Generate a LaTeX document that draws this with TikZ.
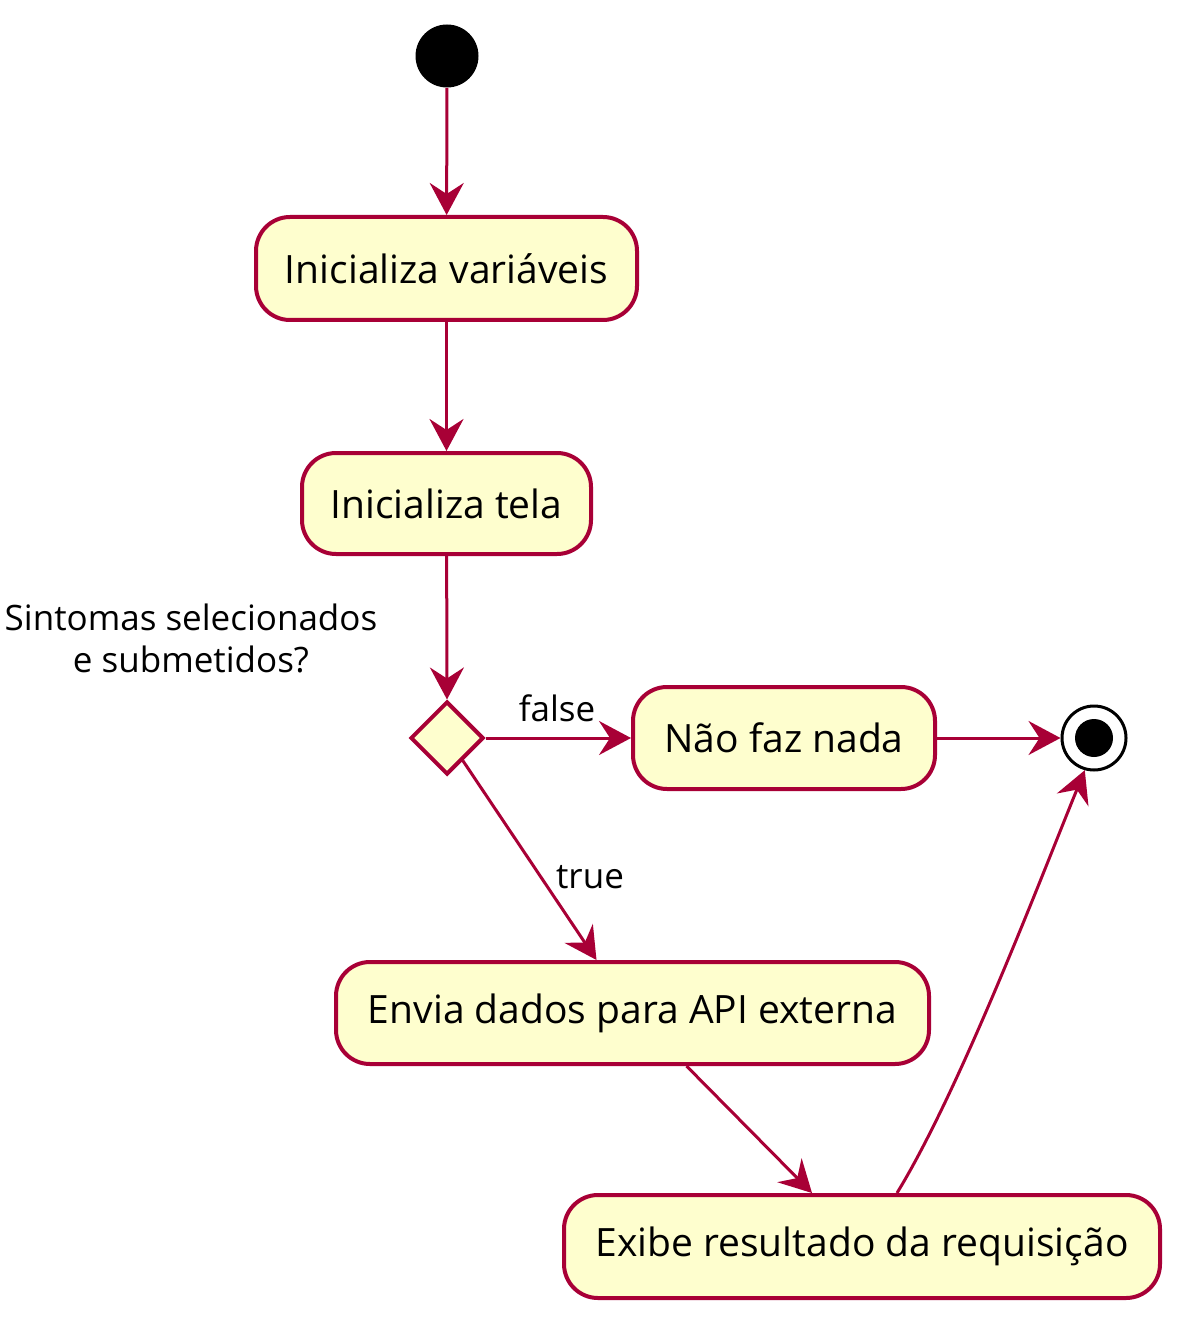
\documentclass[tikz,border=0pt]{standalone}
\usepackage{fontspec}
\setmainfont{Open Sans}
\usetikzlibrary{shapes.geometric,arrows.meta}
\definecolor{umlred}{HTML}{A80036}
\definecolor{umlfill}{HTML}{FEFECE}
\tikzset{
  act/.style={draw=umlred, fill=umlfill, line width=2pt, rounded corners=17pt,
    inner sep=0pt, font=\fontsize{19.5}{22}\selectfont},
  flow/.style={draw=umlred, line width=1.5pt,
    -{Stealth[length=16pt, width=17pt, inset=5.5pt]}},
  lbl/.style={font=\fontsize{17.5}{21}\selectfont, inner sep=0pt},
}
\begin{document}
\begin{tikzpicture}[x=0.5pt, y=-0.5pt]
\useasboundingbox (0,0) rectangle (1193,1331);
\node[circle, fill=black, minimum size=31.5pt, inner sep=0pt] (start) at (447,56) {};
\node[act, minimum width=190.5pt, minimum height=51.5pt] (b1) at (446.5,268.5) {Inicializa variáveis};
\node[act, minimum width=144.5pt, minimum height=50.5pt] (b2) at (446.5,503.5) {Inicializa tela};
\node[diamond, draw=umlred, fill=umlfill, line width=2pt, aspect=1, inner sep=0pt,
  minimum width=36.5pt, minimum height=36.5pt] (dia) at (447,738) {};
\node[lbl, align=center] (q) at (191,638) {Sintomas selecionados\\e submetidos?};
\node[act, minimum width=151pt, minimum height=51pt] (b3) at (784,738) {Não faz nada};
\node[circle, draw=black, line width=1.5pt, minimum size=32pt, inner sep=0pt] (end) at (1094,738) {};
\node[circle, fill=black, minimum size=19pt, inner sep=0pt] (endin) at (end.center) {};
\node[act, minimum width=296.5pt, minimum height=51pt] (b4) at (632.5,1013) {Envia dados para API externa};
\node[act, minimum width=298pt, minimum height=51.5pt] (b5) at (862,1246.5) {Exibe resultado da requisição};
\node[lbl] (lf) at (557,708) {false};
\node[lbl] (lt) at (590,877) {true};

\draw[flow] (start) -- (b1);
\draw[flow] (b1) -- (b2);
\draw[flow] (b2) -- (dia.north);
\draw[flow] (dia.east) -- (b3.west);
\draw[flow] (b3.east) -- (end.west);
\draw[flow] (dia.-55) -- ([xshift=-18pt]b4.north);
\draw[flow] ([xshift=27pt]b4.south) -- ([xshift=-25pt]b5.north);
\draw[flow] ([xshift=17.5pt]b5.north) .. controls (960,1090) and (1040,880) .. (end.254);
\end{tikzpicture}
\end{document}
